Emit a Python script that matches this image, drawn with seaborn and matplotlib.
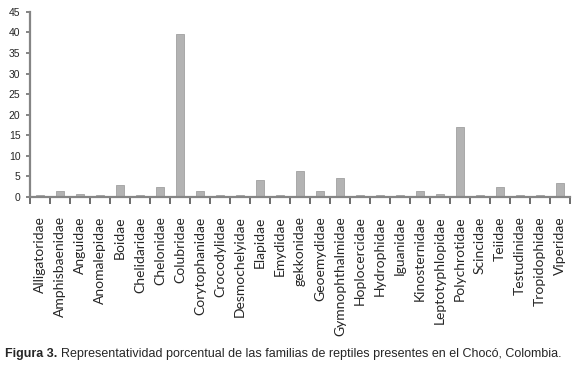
import numpy as np
import pandas as pd
import matplotlib
matplotlib.use('Agg')
import matplotlib.pyplot as plt
import seaborn as sns

familias = ['Alligatoridae', 'Amphisbaenidae', 'Anguidae', 'Anomalepidae', 'Boidae',
            'Chelidaridae', 'Chelonidae', 'Colubridae', 'Corytophanidae', 'Crocodylidae',
            'Desmochelyidae', 'Elapidae', 'Emydidae', 'gekkonidae', 'Geoemydidae',
            'Gymnophthalmidae', 'Hoplocercidae', 'Hydrophidae', 'Iguanidae', 'Kinosternidae',
            'Leptotyphlopidae', 'Polychrotidae', 'Scincidae', 'Teiidae', 'Testudinidae',
            'Tropidophidae', 'Viperidae']
porcentaje = [0.4, 1.5, 0.8, 0.4, 2.8,
              0.4, 2.3, 39.7, 1.5, 0.4,
              0.4, 4.1, 0.4, 6.3, 1.5,
              4.5, 0.4, 0.4, 0.4, 1.5,
              0.8, 17.0, 0.4, 2.3, 0.4,
              0.4, 3.4]
y_ticks = [0, 5, 10, 15, 20, 25, 30, 35, 40, 45]

df = pd.DataFrame({'familia': familias, 'pct': porcentaje})

sns.set_style('white')
plt.rcParams['font.family'] = ['Liberation Sans', 'DejaVu Sans']

fig = plt.figure(figsize=(5.79, 3.70), dpi=100)
ax = fig.add_axes([0.052, 0.468, 0.932, 0.50])

sns.barplot(data=df, x='familia', y='pct', color='#b3b3b3', width=0.4,
            edgecolor='#a0a0a0', linewidth=0.6, saturation=1, ax=ax)

ax.set_xlim(-0.5, len(familias) - 0.5)
ax.set_ylim(0, 45)
ax.set_yticks(y_ticks)
ax.set_yticklabels([str(t) for t in y_ticks], fontsize=7.5)
ax.set_xlabel('')
ax.set_ylabel('')

ax.set_xticks(range(len(familias)))
ax.set_xticklabels(familias, rotation=90, fontsize=10, family=['Lato', 'DejaVu Sans'])
ax.set_xticks(np.arange(-0.5, len(familias), 1), minor=True)
ax.tick_params(axis='x', which='major', bottom=True, length=0, pad=14)
ax.tick_params(axis='x', which='minor', bottom=True, length=5, width=1.3,
               color='#606060', direction='out')
ax.tick_params(axis='y', left=True, length=3, width=1.2, color='#707070',
               direction='out', pad=4)

for s in ['top', 'right']:
    ax.spines[s].set_visible(False)
for s in ['left', 'bottom']:
    ax.spines[s].set_color('#858585')
    ax.spines[s].set_linewidth(1.6)

t1 = fig.text(0.009, 0.035, 'Figura 3.', fontsize=9, fontweight='bold')
fig.canvas.draw()
bb = t1.get_window_extent()
x2 = (bb.x1 + 4) / fig.bbox.width
fig.text(x2, 0.035, 'Representatividad porcentual de las familias de reptiles presentes en el Chocó, Colombia.',
         fontsize=9)

fig.savefig('out.png', dpi=100)
